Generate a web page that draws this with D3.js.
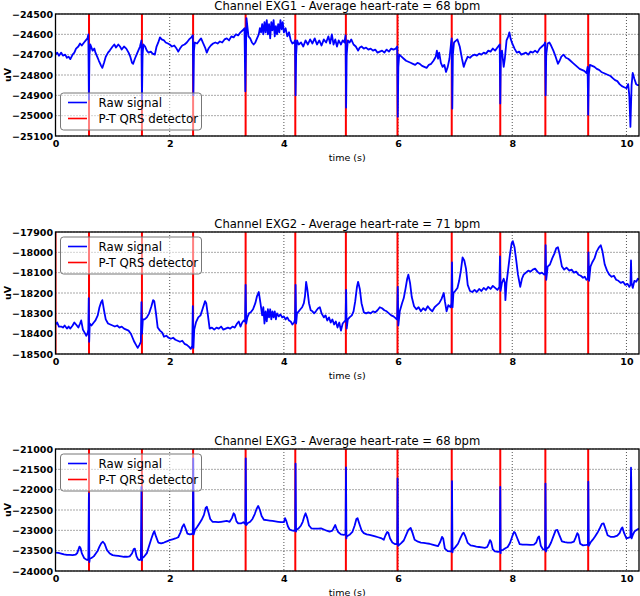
<!DOCTYPE html>
<html><head><meta charset="utf-8">
<script src="https://cdn.jsdelivr.net/npm/d3@7"></script>
<style>
html,body{margin:0;padding:0;background:#fff;}
svg{display:block;font-family:"DejaVu Sans",sans-serif;}
</style></head><body>
<svg id="chart" width="640" height="596"></svg>
<script>
// ---------- data ----------
const titles = [
  "Channel EXG1 - Average heart-rate = 68 bpm",
  "Channel EXG2 - Average heart-rate = 71 bpm",
  "Channel EXG3 - Average heart-rate = 68 bpm"
];
const xTicks = [0, 2, 4, 6, 8, 10];
const yTicks1 = [-24500, -24600, -24700, -24800, -24900, -25000, -25100];
const yTicks2 = [-17900, -18000, -18100, -18200, -18300, -18400, -18500];
const yTicks3 = [-21000, -21500, -22000, -22500, -23000, -23500, -24000];
const qrs1 = [0.587, 1.514, 2.41, 3.33, 4.20, 5.086, 5.99, 6.94, 7.79, 8.58, 9.33];
const qrs2 = [0.0, 0.587, 1.514, 2.41, 3.33, 4.20, 5.086, 5.99, 6.94, 7.79, 8.58, 9.33];
const qrs3 = [0.587, 1.514, 2.41, 3.33, 4.20, 5.086, 5.99, 6.94, 7.79, 8.58, 9.33];
const legendLabels = ["Raw signal", "P-T QRS detector"];

// EXG1 raw signal [time s, uV]
const exg1 = [[0,-24700],[0.03,-24690],[0.06,-24705],[0.1,-24690],[0.13,-24705],[0.17,-24700],[0.2,-24715],[0.23,-24710],[0.26,-24722],[0.3,-24700],[0.33,-24690],[0.36,-24670],[0.4,-24660],[0.43,-24645],[0.46,-24655],[0.5,-24640],[0.53,-24630],[0.56,-24620],[0.575,-24600],[0.585,-24920],[0.595,-24700],[0.61,-24650],[0.65,-24680],[0.68,-24670],[0.7,-24690],[0.73,-24710],[0.76,-24730],[0.8,-24755],[0.82,-24765],[0.85,-24740],[0.88,-24710],[0.92,-24690],[0.95,-24680],[1.0,-24660],[1.03,-24650],[1.06,-24665],[1.1,-24650],[1.13,-24660],[1.16,-24675],[1.2,-24660],[1.24,-24670],[1.28,-24690],[1.31,-24710],[1.34,-24740],[1.36,-24745],[1.39,-24720],[1.42,-24700],[1.45,-24680],[1.48,-24660],[1.505,-24630],[1.515,-24920],[1.525,-24700],[1.54,-24650],[1.57,-24660],[1.6,-24680],[1.63,-24690],[1.67,-24685],[1.7,-24695],[1.74,-24700],[1.77,-24660],[1.8,-24640],[1.83,-24615],[1.86,-24625],[1.9,-24630],[1.93,-24640],[1.97,-24645],[2.0,-24650],[2.04,-24660],[2.08,-24655],[2.12,-24670],[2.15,-24685],[2.18,-24670],[2.22,-24655],[2.26,-24650],[2.3,-24640],[2.34,-24625],[2.38,-24615],[2.405,-24605],[2.415,-24900],[2.425,-24680],[2.44,-24640],[2.48,-24645],[2.52,-24630],[2.55,-24620],[2.58,-24640],[2.62,-24665],[2.65,-24690],[2.68,-24670],[2.72,-24655],[2.76,-24645],[2.8,-24640],[2.84,-24645],[2.88,-24635],[2.92,-24640],[2.96,-24625],[3.0,-24620],[3.04,-24630],[3.08,-24610],[3.12,-24615],[3.16,-24600],[3.2,-24605],[3.24,-24590],[3.28,-24580],[3.31,-24570],[3.325,-24880],[3.335,-24700],[3.345,-24520],[3.36,-24560],[3.38,-24610],[3.41,-24620],[3.44,-24640],[3.47,-24650],[3.5,-24640],[3.53,-24620],[3.56,-24600],[3.58,-24570],[3.6,-24590],[3.62,-24550],[3.64,-24600],[3.66,-24540],[3.68,-24590],[3.7,-24530],[3.72,-24600],[3.74,-24550],[3.76,-24620],[3.78,-24540],[3.8,-24580],[3.82,-24530],[3.84,-24610],[3.86,-24560],[3.88,-24600],[3.9,-24550],[3.92,-24590],[3.94,-24530],[3.96,-24575],[3.98,-24540],[4.0,-24590],[4.03,-24570],[4.06,-24610],[4.09,-24590],[4.12,-24630],[4.15,-24645],[4.18,-24640],[4.195,-24630],[4.205,-24900],[4.215,-24700],[4.23,-24630],[4.26,-24650],[4.3,-24640],[4.34,-24660],[4.38,-24630],[4.42,-24650],[4.46,-24625],[4.5,-24645],[4.54,-24620],[4.58,-24650],[4.62,-24630],[4.66,-24655],[4.7,-24625],[4.74,-24640],[4.78,-24610],[4.81,-24645],[4.84,-24600],[4.87,-24650],[4.9,-24625],[4.93,-24660],[4.96,-24630],[5.0,-24650],[5.03,-24630],[5.06,-24640],[5.08,-24605],[5.09,-24960],[5.1,-24700],[5.12,-24630],[5.15,-24640],[5.18,-24625],[5.22,-24650],[5.26,-24660],[5.3,-24680],[5.33,-24665],[5.36,-24660],[5.4,-24670],[5.44,-24665],[5.48,-24675],[5.52,-24670],[5.56,-24680],[5.6,-24675],[5.64,-24690],[5.68,-24685],[5.72,-24680],[5.76,-24690],[5.8,-24675],[5.84,-24685],[5.88,-24670],[5.92,-24675],[5.96,-24670],[5.985,-24660],[5.995,-25005],[6.005,-24760],[6.02,-24700],[6.06,-24710],[6.1,-24720],[6.14,-24730],[6.18,-24735],[6.22,-24740],[6.26,-24745],[6.3,-24750],[6.34,-24740],[6.38,-24745],[6.42,-24755],[6.46,-24760],[6.5,-24765],[6.54,-24750],[6.58,-24745],[6.62,-24730],[6.66,-24710],[6.68,-24680],[6.7,-24720],[6.72,-24690],[6.75,-24740],[6.78,-24760],[6.81,-24750],[6.84,-24785],[6.87,-24760],[6.9,-24720],[6.93,-24640],[6.94,-24620],[6.95,-24965],[6.96,-24700],[6.98,-24640],[7.0,-24635],[7.04,-24625],[7.08,-24660],[7.12,-24720],[7.15,-24760],[7.18,-24735],[7.22,-24710],[7.26,-24715],[7.3,-24705],[7.34,-24700],[7.38,-24705],[7.42,-24695],[7.46,-24700],[7.5,-24690],[7.54,-24695],[7.58,-24680],[7.62,-24685],[7.66,-24670],[7.7,-24680],[7.74,-24665],[7.78,-24650],[7.79,-24940],[7.8,-24700],[7.82,-24680],[7.85,-24760],[7.87,-24720],[7.9,-24630],[7.93,-24610],[7.95,-24590],[7.97,-24620],[8.0,-24645],[8.04,-24670],[8.08,-24690],[8.12,-24685],[8.16,-24700],[8.2,-24695],[8.24,-24690],[8.28,-24700],[8.32,-24685],[8.36,-24690],[8.4,-24680],[8.44,-24690],[8.48,-24670],[8.52,-24660],[8.56,-24650],[8.575,-24640],[8.585,-24900],[8.595,-24700],[8.62,-24645],[8.65,-24640],[8.68,-24655],[8.72,-24680],[8.76,-24710],[8.8,-24745],[8.83,-24730],[8.86,-24710],[8.9,-24700],[8.94,-24715],[8.98,-24720],[9.02,-24730],[9.06,-24740],[9.1,-24750],[9.14,-24760],[9.18,-24770],[9.22,-24775],[9.26,-24780],[9.3,-24790],[9.32,-24760],[9.33,-24995],[9.34,-24800],[9.36,-24750],[9.4,-24755],[9.44,-24760],[9.48,-24770],[9.52,-24775],[9.56,-24785],[9.6,-24790],[9.64,-24795],[9.68,-24800],[9.72,-24805],[9.76,-24815],[9.8,-24825],[9.84,-24830],[9.88,-24845],[9.92,-24855],[9.96,-24860],[10.0,-24865],[10.03,-24845],[10.05,-24900],[10.07,-25055],[10.09,-24850],[10.11,-24790],[10.14,-24820],[10.17,-24845],[10.2,-24850],[10.22,-24850]];

// EXG2 raw signal [time s, uV]
const exg2 = [[0,-18355],[0.03,-18345],[0.06,-18365],[0.1,-18365],[0.13,-18370],[0.16,-18360],[0.2,-18375],[0.23,-18365],[0.26,-18375],[0.3,-18360],[0.33,-18345],[0.36,-18355],[0.4,-18370],[0.43,-18350],[0.45,-18335],[0.48,-18380],[0.51,-18395],[0.54,-18410],[0.56,-18400],[0.575,-18380],[0.582,-18225],[0.59,-18440],[0.6,-18350],[0.63,-18360],[0.67,-18345],[0.7,-18335],[0.74,-18310],[0.77,-18270],[0.8,-18245],[0.82,-18235],[0.85,-18285],[0.88,-18330],[0.92,-18350],[0.96,-18355],[1.0,-18360],[1.04,-18365],[1.08,-18360],[1.12,-18370],[1.16,-18365],[1.2,-18375],[1.24,-18380],[1.28,-18385],[1.32,-18400],[1.35,-18420],[1.38,-18440],[1.41,-18455],[1.44,-18470],[1.47,-18455],[1.495,-18440],[1.505,-18245],[1.515,-18400],[1.53,-18330],[1.56,-18330],[1.6,-18320],[1.64,-18300],[1.68,-18265],[1.71,-18235],[1.73,-18240],[1.76,-18300],[1.79,-18370],[1.83,-18385],[1.87,-18395],[1.9,-18415],[1.94,-18410],[1.98,-18420],[2.02,-18425],[2.06,-18420],[2.1,-18430],[2.14,-18435],[2.18,-18440],[2.22,-18435],[2.26,-18450],[2.3,-18455],[2.34,-18465],[2.37,-18475],[2.395,-18460],[2.405,-18265],[2.415,-18470],[2.43,-18380],[2.46,-18345],[2.5,-18320],[2.54,-18310],[2.58,-18275],[2.62,-18240],[2.64,-18250],[2.67,-18310],[2.7,-18375],[2.74,-18370],[2.78,-18380],[2.82,-18370],[2.86,-18375],[2.9,-18365],[2.94,-18380],[2.98,-18375],[3.02,-18370],[3.06,-18375],[3.1,-18365],[3.14,-18370],[3.18,-18350],[3.21,-18340],[3.24,-18365],[3.27,-18345],[3.3,-18335],[3.32,-18340],[3.33,-18160],[3.34,-18350],[3.36,-18320],[3.39,-18300],[3.42,-18295],[3.46,-18280],[3.5,-18250],[3.53,-18215],[3.56,-18195],[3.59,-18250],[3.62,-18310],[3.64,-18270],[3.66,-18350],[3.68,-18290],[3.7,-18340],[3.72,-18280],[3.74,-18320],[3.76,-18280],[3.78,-18330],[3.8,-18290],[3.82,-18320],[3.84,-18290],[3.86,-18330],[3.88,-18300],[3.91,-18315],[3.94,-18305],[3.97,-18320],[4.0,-18315],[4.03,-18330],[4.06,-18320],[4.09,-18335],[4.12,-18340],[4.15,-18355],[4.18,-18345],[4.195,-18330],[4.205,-18160],[4.215,-18350],[4.23,-18300],[4.26,-18290],[4.29,-18280],[4.32,-18270],[4.35,-18250],[4.37,-18215],[4.39,-18145],[4.41,-18180],[4.44,-18250],[4.47,-18285],[4.5,-18290],[4.53,-18300],[4.56,-18290],[4.6,-18275],[4.63,-18270],[4.66,-18300],[4.7,-18320],[4.73,-18310],[4.76,-18335],[4.79,-18320],[4.82,-18345],[4.85,-18330],[4.88,-18355],[4.91,-18340],[4.94,-18370],[4.97,-18345],[5.0,-18385],[5.03,-18350],[5.06,-18340],[5.08,-18335],[5.09,-18185],[5.1,-18375],[5.12,-18330],[5.15,-18320],[5.19,-18310],[5.22,-18290],[5.25,-18240],[5.28,-18170],[5.3,-18145],[5.33,-18180],[5.36,-18250],[5.4,-18295],[5.44,-18300],[5.48,-18295],[5.52,-18300],[5.56,-18290],[5.6,-18295],[5.64,-18285],[5.68,-18270],[5.72,-18275],[5.76,-18285],[5.8,-18290],[5.84,-18300],[5.88,-18310],[5.92,-18315],[5.96,-18325],[5.985,-18330],[5.995,-18170],[6.005,-18360],[6.03,-18290],[6.07,-18250],[6.1,-18225],[6.13,-18180],[6.16,-18130],[6.18,-18110],[6.21,-18150],[6.24,-18220],[6.28,-18265],[6.32,-18280],[6.36,-18270],[6.4,-18290],[6.44,-18275],[6.48,-18285],[6.52,-18265],[6.56,-18280],[6.6,-18290],[6.64,-18270],[6.68,-18260],[6.72,-18250],[6.76,-18230],[6.8,-18200],[6.82,-18240],[6.85,-18290],[6.88,-18260],[6.92,-18270],[6.935,-18250],[6.945,-18050],[6.955,-18270],[6.97,-18200],[7.0,-18190],[7.04,-18175],[7.07,-18140],[7.1,-18090],[7.13,-18025],[7.16,-18040],[7.19,-18080],[7.22,-18160],[7.26,-18190],[7.3,-18195],[7.34,-18185],[7.38,-18195],[7.42,-18180],[7.46,-18190],[7.5,-18175],[7.54,-18185],[7.58,-18170],[7.62,-18180],[7.66,-18165],[7.7,-18175],[7.74,-18185],[7.775,-18170],[7.785,-18020],[7.795,-18190],[7.82,-18150],[7.85,-18130],[7.87,-18150],[7.88,-18235],[7.9,-18150],[7.93,-18080],[7.96,-18010],[7.99,-17955],[8.01,-17945],[8.04,-17975],[8.07,-18040],[8.1,-18110],[8.14,-18170],[8.17,-18130],[8.2,-18110],[8.24,-18100],[8.28,-18090],[8.32,-18095],[8.36,-18085],[8.4,-18080],[8.44,-18095],[8.48,-18105],[8.52,-18100],[8.56,-18110],[8.575,-18105],[8.585,-17965],[8.595,-18135],[8.62,-18070],[8.66,-18060],[8.7,-18030],[8.74,-18005],[8.77,-17980],[8.8,-17975],[8.83,-18010],[8.87,-18070],[8.91,-18085],[8.95,-18075],[9.0,-18090],[9.04,-18085],[9.08,-18100],[9.12,-18095],[9.16,-18110],[9.2,-18115],[9.24,-18125],[9.27,-18120],[9.3,-18135],[9.325,-18130],[9.335,-18000],[9.345,-18140],[9.37,-18070],[9.4,-18050],[9.44,-18030],[9.48,-17995],[9.52,-17975],[9.55,-17965],[9.58,-17995],[9.62,-18060],[9.66,-18090],[9.7,-18110],[9.74,-18120],[9.78,-18115],[9.82,-18135],[9.86,-18140],[9.9,-18150],[9.94,-18145],[9.98,-18160],[10.02,-18155],[10.05,-18170],[10.07,-18160],[10.08,-18040],[10.09,-18150],[10.11,-18175],[10.14,-18140],[10.17,-18145],[10.2,-18130],[10.22,-18135]];

// EXG3 raw signal [time s, uV]
const exg3 = [[0,-23550],[0.05,-23555],[0.1,-23570],[0.15,-23590],[0.2,-23605],[0.25,-23605],[0.3,-23610],[0.35,-23600],[0.38,-23560],[0.4,-23480],[0.42,-23400],[0.44,-23440],[0.46,-23560],[0.5,-23680],[0.54,-23720],[0.56,-23730],[0.575,-23700],[0.585,-22090],[0.593,-23780],[0.6,-23700],[0.63,-23680],[0.67,-23640],[0.7,-23580],[0.74,-23500],[0.77,-23400],[0.8,-23320],[0.83,-23280],[0.86,-23330],[0.9,-23480],[0.95,-23570],[1.0,-23610],[1.05,-23620],[1.1,-23630],[1.15,-23640],[1.2,-23650],[1.25,-23650],[1.3,-23640],[1.34,-23570],[1.37,-23460],[1.39,-23450],[1.42,-23640],[1.45,-23720],[1.48,-23730],[1.495,-23700],[1.505,-21930],[1.513,-23740],[1.52,-23680],[1.55,-23650],[1.6,-23560],[1.64,-23380],[1.68,-23200],[1.71,-23080],[1.73,-23020],[1.76,-23150],[1.8,-23300],[1.85,-23320],[1.9,-23300],[1.95,-23270],[2.0,-23240],[2.05,-23220],[2.1,-23200],[2.15,-23170],[2.19,-23050],[2.22,-22920],[2.25,-22850],[2.28,-22960],[2.31,-23080],[2.35,-23100],[2.39,-23090],[2.405,-23060],[2.412,-21230],[2.42,-23100],[2.44,-23000],[2.48,-22920],[2.52,-22830],[2.56,-22740],[2.6,-22620],[2.63,-22450],[2.65,-22420],[2.68,-22560],[2.71,-22720],[2.75,-22790],[2.8,-22790],[2.85,-22800],[2.9,-22790],[2.95,-22780],[3.0,-22770],[3.05,-22790],[3.09,-22700],[3.12,-22580],[3.14,-22620],[3.17,-22780],[3.2,-22830],[3.25,-22830],[3.29,-22800],[3.325,-22850],[3.332,-21230],[3.34,-22870],[3.37,-22820],[3.41,-22790],[3.45,-22720],[3.49,-22600],[3.52,-22480],[3.55,-22400],[3.58,-22500],[3.61,-22650],[3.65,-22740],[3.7,-22750],[3.75,-22760],[3.8,-22770],[3.85,-22780],[3.9,-22790],[3.95,-22800],[4.0,-22800],[4.02,-22700],[4.04,-22760],[4.07,-22900],[4.1,-22980],[4.14,-23000],[4.18,-23010],[4.198,-22990],[4.205,-21360],[4.213,-23030],[4.22,-22990],[4.26,-22950],[4.3,-22880],[4.33,-22790],[4.36,-22650],[4.38,-22580],[4.41,-22700],[4.44,-22880],[4.48,-22950],[4.52,-22960],[4.56,-22960],[4.6,-22960],[4.65,-22950],[4.7,-22980],[4.75,-23010],[4.8,-23030],[4.85,-23010],[4.88,-22920],[4.9,-22870],[4.92,-22950],[4.95,-23040],[5.0,-23100],[5.05,-23110],[5.08,-23100],[5.088,-21450],[5.095,-23200],[5.1,-23150],[5.15,-23110],[5.2,-23040],[5.24,-22880],[5.27,-22720],[5.29,-22700],[5.32,-22830],[5.36,-23000],[5.4,-23070],[5.45,-23100],[5.5,-23110],[5.55,-23130],[5.6,-23150],[5.65,-23170],[5.7,-23190],[5.75,-23230],[5.78,-23120],[5.81,-23040],[5.83,-23060],[5.86,-23200],[5.9,-23300],[5.95,-23340],[5.985,-23330],[5.992,-21720],[6.0,-23380],[6.05,-23320],[6.1,-23250],[6.14,-23120],[6.18,-22990],[6.22,-22940],[6.25,-23050],[6.29,-23230],[6.35,-23280],[6.4,-23300],[6.45,-23310],[6.5,-23320],[6.55,-23330],[6.6,-23350],[6.65,-23370],[6.7,-23390],[6.74,-23280],[6.77,-23160],[6.79,-23200],[6.82,-23450],[6.87,-23510],[6.92,-23520],[6.938,-23500],[6.945,-21790],[6.953,-23540],[6.96,-23480],[7.0,-23420],[7.05,-23330],[7.09,-23200],[7.13,-23080],[7.15,-23060],[7.18,-23150],[7.22,-23310],[7.27,-23370],[7.32,-23380],[7.37,-23400],[7.42,-23410],[7.47,-23420],[7.52,-23430],[7.56,-23410],[7.59,-23320],[7.61,-23240],[7.63,-23280],[7.66,-23470],[7.7,-23520],[7.75,-23530],[7.782,-23520],[7.79,-21930],[7.797,-23560],[7.8,-23490],[7.84,-23480],[7.88,-23440],[7.92,-23410],[7.96,-23310],[8.0,-23150],[8.03,-23040],[8.05,-23060],[8.09,-23200],[8.13,-23340],[8.18,-23350],[8.25,-23350],[8.32,-23360],[8.38,-23350],[8.42,-23300],[8.45,-23180],[8.47,-23150],[8.5,-23380],[8.54,-23470],[8.575,-23480],[8.582,-21850],[8.59,-23520],[8.6,-23460],[8.64,-23410],[8.68,-23300],[8.72,-23150],[8.76,-23000],[8.79,-22990],[8.82,-23100],[8.87,-23270],[8.92,-23290],[8.97,-23300],[9.03,-23300],[9.08,-23280],[9.11,-23180],[9.14,-23070],[9.16,-23110],[9.19,-23330],[9.24,-23370],[9.3,-23360],[9.325,-23350],[9.332,-21800],[9.34,-23380],[9.37,-23300],[9.41,-23230],[9.45,-23150],[9.5,-23040],[9.54,-22930],[9.57,-22840],[9.6,-22830],[9.63,-22950],[9.67,-23120],[9.72,-23160],[9.78,-23160],[9.84,-23130],[9.88,-23070],[9.91,-22960],[9.93,-22930],[9.96,-23070],[10.0,-23200],[10.04,-23180],[10.07,-23170],[10.08,-21460],[10.085,-21900],[10.09,-23200],[10.11,-23120],[10.14,-23030],[10.17,-23000],[10.2,-22970],[10.22,-22960]];

const xDomain = [0, 10.22];
const yDomains = [[-25100, -24500], [-18500, -17900], [-24000, -21000]];

// ---------- drawing ----------
const svg = d3.select("#chart");
const plotLeft = 55.5, plotRight = 639;
const panelTops = [14, 232, 449];
const panelH = 122;

const panels = [
  {data: exg1, qrs: qrs1, ticks: yTicks1, dom: yDomains[0], title: titles[0]},
  {data: exg2, qrs: qrs2, ticks: yTicks2, dom: yDomains[1], title: titles[1]},
  {data: exg3, qrs: qrs3, ticks: yTicks3, dom: yDomains[2], title: titles[2]}
];

const x = d3.scaleLinear().domain(xDomain).range([plotLeft, plotRight]);
const fmtTick = d => (d < 0 ? "\u2212" + Math.abs(d) : String(d));

panels.forEach((p, i) => {
  const top = panelTops[i], bottom = top + panelH;
  const y = d3.scaleLinear().domain(p.dom).range([bottom, top]);
  const g = svg.append("g");
  const clipId = "clip" + i;
  svg.append("clipPath").attr("id", clipId).append("rect")
    .attr("x", plotLeft).attr("y", top).attr("width", plotRight - plotLeft).attr("height", panelH);

  // grid
  g.append("g").selectAll("line").data(xTicks).join("line")
    .attr("x1", d => x(d)).attr("x2", d => x(d)).attr("y1", top).attr("y2", bottom)
    .attr("stroke", "#000").attr("stroke-width", 0.9).attr("stroke-dasharray", "1,2").attr("opacity", 0.75);
  g.append("g").selectAll("line").data(p.ticks).join("line")
    .attr("x1", plotLeft).attr("x2", plotRight).attr("y1", d => y(d)).attr("y2", d => y(d))
    .attr("stroke", "#000").attr("stroke-width", 0.9).attr("stroke-dasharray", "1,2").attr("opacity", 0.75);

  const plot = g.append("g").attr("clip-path", `url(#${clipId})`);
  // QRS detector lines
  plot.selectAll("line.qrs").data(p.qrs).join("line").attr("class", "qrs")
    .attr("x1", d => x(d)).attr("x2", d => x(d)).attr("y1", top).attr("y2", bottom)
    .attr("stroke", "#ff0000").attr("stroke-width", 2);
  // raw signal
  plot.append("path").datum(p.data)
    .attr("d", d3.line().x(d => x(d[0])).y(d => y(d[1])))
    .attr("fill", "none").attr("stroke", "#0000ff").attr("stroke-width", 1.8)
    .attr("stroke-linejoin", "round");

  // frame
  g.append("rect").attr("x", plotLeft).attr("y", top).attr("width", plotRight - plotLeft).attr("height", panelH)
    .attr("fill", "none").attr("stroke", "#000").attr("stroke-width", 1.3);

  // axes labels
  const yAxis = d3.axisLeft(y).tickValues(p.ticks).tickFormat(fmtTick).tickSize(0).tickPadding(2.5);
  const ya = g.append("g").attr("transform", `translate(${plotLeft},0)`).call(yAxis);
  ya.select(".domain").remove();
  ya.selectAll("text").attr("font-size", 9.5).attr("font-weight", "bold")
    .attr("font-family", "DejaVu Sans").attr("fill", "#000");

  const xAxis = d3.axisBottom(x).tickValues(xTicks).tickFormat(d3.format("d")).tickSize(0).tickPadding(4);
  const xa = g.append("g").attr("transform", `translate(0,${bottom})`).call(xAxis);
  xa.select(".domain").remove();
  xa.selectAll("text").attr("font-size", 9.5).attr("font-weight", "bold")
    .attr("font-family", "DejaVu Sans").attr("fill", "#000");

  // title
  g.append("text").attr("x", (plotLeft + plotRight) / 2).attr("y", top - 4)
    .attr("text-anchor", "middle").attr("font-size", 11.6).text(p.title);
  // x label
  g.append("text").attr("x", (plotLeft + plotRight) / 2).attr("y", bottom + 24.5)
    .attr("text-anchor", "middle").attr("font-size", 9.5).text("time (s)");
  // y label
  g.append("text").attr("transform", `translate(11,${top + panelH / 2}) rotate(-90)`)
    .attr("text-anchor", "middle").attr("font-size", 9.5).attr("font-weight", "bold").text("uV");

  // legend
  const lg = g.append("g").attr("transform", `translate(60.5,${i === 0 ? 93 : top + 5})`);
  lg.append("rect").attr("width", 141).attr("height", 37).attr("rx", 3)
    .attr("fill", "#fff").attr("fill-opacity", 0.5).attr("stroke", "#777").attr("stroke-width", 1);
  const colors = ["#0000ff", "#ff0000"];
  legendLabels.forEach((lab, k) => {
    const cy = 9.5 + k * 16;
    lg.append("line").attr("x1", 7.5).attr("x2", 26.5).attr("y1", cy).attr("y2", cy)
      .attr("stroke", colors[k]).attr("stroke-width", 1.6);
    lg.append("text").attr("x", 38).attr("y", cy + 4).attr("font-size", 11.8).text(lab);
  });
});
</script>
</body></html>
